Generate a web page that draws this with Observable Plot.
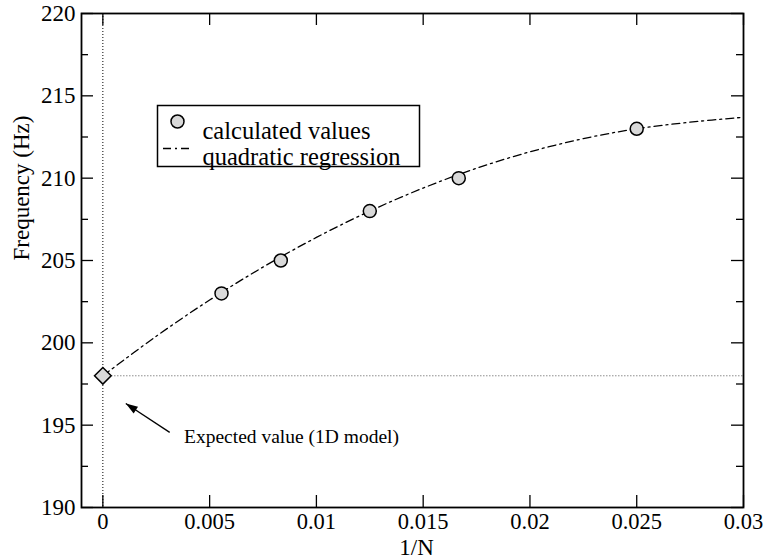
<!DOCTYPE html>
<html><head><meta charset="utf-8">
<script src="https://cdn.jsdelivr.net/npm/d3@7"></script>
<script src="https://cdn.jsdelivr.net/npm/@observablehq/plot@0.6"></script>
<style>body{margin:0;background:#fff} svg text{font-family:"Liberation Serif","Times New Roman",serif;}</style>
</head><body><div id="chart"></div>
<script>
// data
const invN = [0.005556, 0.008333, 0.0125, 0.016667, 0.025];
const freq = [203, 205, 208, 210, 213];
const expectedX = [0];
const expectedY = [198];
const fitX = [0, 0.0025, 0.005, 0.0075, 0.01, 0.0125, 0.015, 0.0175, 0.02, 0.0225, 0.025, 0.0275, 0.03];
const fitY = [198, 200.4, 202.6, 204.6, 206.4, 208.0, 209.4, 210.6, 211.6, 212.4, 213.0, 213.4, 213.7];
const xTicks = [0, 0.005, 0.01, 0.015, 0.02, 0.025, 0.03];
const xTickLabels = ["0", "0.005", "0.01", "0.015", "0.02", "0.025", "0.03"];
const yTicks = [190, 195, 200, 205, 210, 215, 220];
const yMinor = [192.5, 197.5, 202.5, 207.5, 212.5, 217.5];
const legendLabels = ["calculated values", "quadratic regression"];
const annotationText = ["Expected value (1D model)"];
const annotationPos = [0.0038, 194.3];
const arrowFrom = [0.00313, 194.56];
const arrowTo = [0.001075, 196.32];
const xLabel = "1/N";
const yLabel = "Frequency (Hz)";

const points = invN.map((x, i) => ({x, y: freq[i]}));
const fit = fitX.map((x, i) => ({x, y: fitY[i]}));
const expected = expectedX.map((x, i) => ({x, y: expectedY[i]}));
const arrow = [{x1: arrowFrom[0], y1: arrowFrom[1], x2: arrowTo[0], y2: arrowTo[1]}];

const serif = "Liberation Serif";
const fillGray = "#d9d9d9";
const dashDot = "8,4,2,4";
const arrowHead = {draw(ctx) { ctx.moveTo(0, 0); ctx.lineTo(-4, 12); ctx.lineTo(4, 12); ctx.closePath(); }};

const W = 766, H = 560, ML = 81, MR = 23, MT = 13, MB = 53;
const pw = W - ML - MR, ph = H - MT - MB;

const chart = Plot.plot({
  width: W, height: H,
  marginLeft: ML, marginRight: MR, marginTop: MT, marginBottom: MB,
  style: {fontFamily: serif, fontSize: "22px", color: "#000", background: "#fff", overflow: "visible"},
  x: {domain: [-0.001, 0.03]},
  y: {domain: [190, 220]},
  marks: [
    // reference lines
    Plot.ruleX(expectedX, {x: d => d, stroke: "#000", strokeWidth: 1, strokeDasharray: "1,2"}),
    Plot.ruleY(expectedY, {y: d => d, x1: 0, x2: 0.03, stroke: "#555", strokeWidth: 1, strokeDasharray: "1,2"}),
    // regression
    Plot.line(fit, {x: "x", y: "y", curve: "catmull-rom", stroke: "#000", strokeWidth: 1.3, strokeDasharray: dashDot}),
    // data points
    Plot.dot(points, {x: "x", y: "y", r: 6.5, fill: fillGray, stroke: "#000", strokeWidth: 1.5}),
    Plot.dot(expected, {x: "x", y: "y", symbol: "diamond2", r: 7.5, fill: fillGray, stroke: "#000", strokeWidth: 1.5}),
    // annotation
    Plot.link(arrow, {x1: "x1", y1: "y1", x2: "x2", y2: "y2", stroke: "#000", strokeWidth: 1.3}),
    Plot.dot(arrow, {x: "x2", y: "y2", symbol: arrowHead, r: 5, fill: "#000", stroke: "none", rotate: -56.6}),
    Plot.text(annotationText, {x: () => annotationPos[0], y: () => annotationPos[1], text: d => d, textAnchor: "start", fontSize: 19.5, fontFamily: serif}),
    // legend
    Plot.frame({insetLeft: 76, insetTop: 92, insetRight: 324, insetBottom: 341, stroke: "#000", strokeWidth: 1.5}),
    Plot.dot([legendLabels[0]], {frameAnchor: "top-left", dx: 96, dy: 108, r: 6.5, fill: fillGray, stroke: "#000", strokeWidth: 1.5}),
    Plot.ruleY([220], {y: d => d, dy: 135, insetLeft: 82, insetRight: 553, stroke: "#000", strokeWidth: 1.3, strokeDasharray: dashDot}),
    Plot.text([legendLabels[0]], {frameAnchor: "top-left", dx: 121, dy: 108, text: d => d, textAnchor: "start", fontSize: 24.5, fontFamily: serif}),
    Plot.text([legendLabels[1]], {frameAnchor: "top-left", dx: 121, dy: 134, text: d => d, textAnchor: "start", fontSize: 24.5, fontFamily: serif}),
    // inward ticks
    Plot.tickX(xTicks, {x: d => d, insetTop: ph - 12, stroke: "#000", strokeWidth: 1.3}),
    Plot.tickX(xTicks, {x: d => d, insetBottom: ph - 12, stroke: "#000", strokeWidth: 1.3}),
    Plot.tickY(yTicks, {y: d => d, insetRight: pw - 12, stroke: "#000", strokeWidth: 1.3}),
    Plot.tickY(yTicks, {y: d => d, insetLeft: pw - 12, stroke: "#000", strokeWidth: 1.3}),
    Plot.tickY(yMinor, {y: d => d, insetRight: pw - 7, stroke: "#000", strokeWidth: 1.3}),
    Plot.tickY(yMinor, {y: d => d, insetLeft: pw - 7, stroke: "#000", strokeWidth: 1.3}),
    // axes labels
    Plot.axisX(xTicks, {tickSize: 0, tickPadding: 6, tickFormat: d => xTickLabels[xTicks.indexOf(d)], fontSize: 22.5, fontFamily: serif, label: null}),
    Plot.axisY(yTicks, {tickSize: 0, tickPadding: 6, tickFormat: d => String(d), fontSize: 23, fontFamily: serif, label: null}),
    Plot.text([xLabel], {frameAnchor: "bottom", dx: 4, dy: 47, text: d => d, fontSize: 23, fontFamily: serif}),
    Plot.text([yLabel], {frameAnchor: "left", dx: -60, rotate: -90, text: d => d, fontSize: 23, fontFamily: serif}),
    Plot.frame({stroke: "#000", strokeWidth: 1.8})
  ]
});
document.getElementById("chart").appendChild(chart);
</script>
</body></html>
